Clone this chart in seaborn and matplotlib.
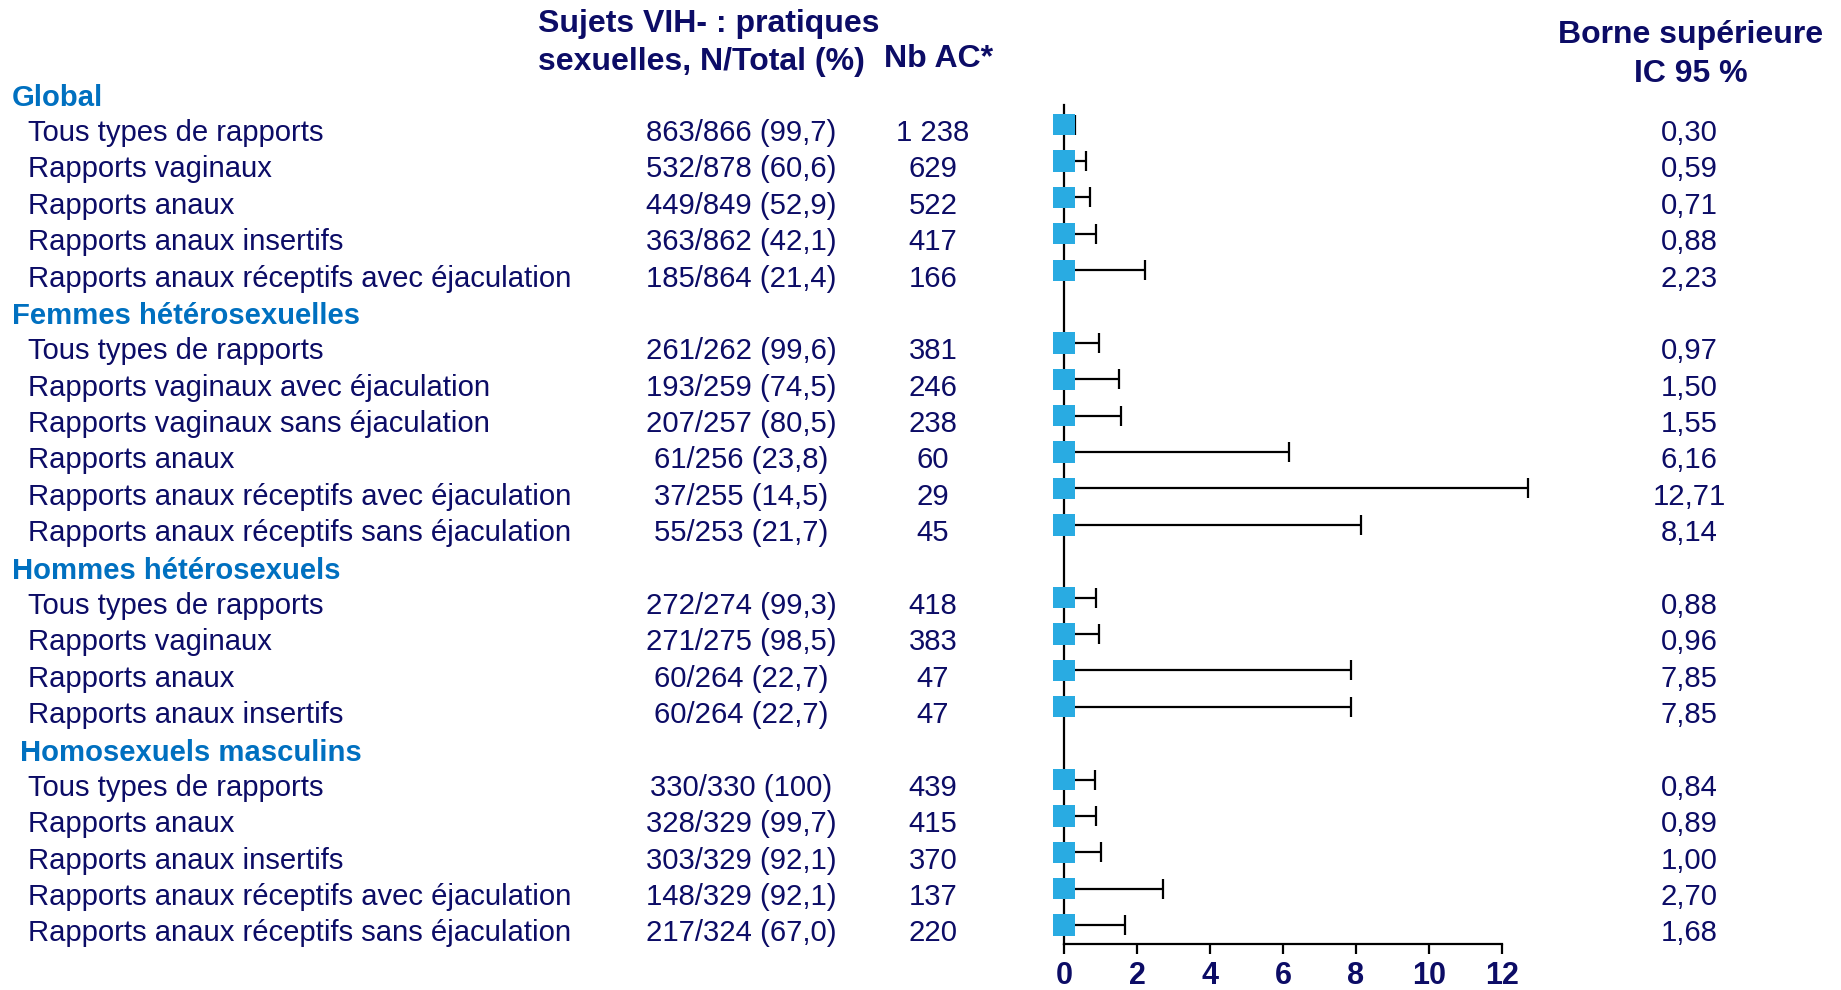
import numpy as np
import pandas as pd
import matplotlib
matplotlib.use("Agg")
import matplotlib.pyplot as plt
import matplotlib.transforms as mtransforms
import seaborn as sns

# Values
groups = ["Global", "Femmes hétérosexuelles", "Hommes hétérosexuels", "Homosexuels masculins"]
group_sizes = [5, 6, 4, 5]

labels = [
    "Tous types de rapports", "Rapports vaginaux", "Rapports anaux", "Rapports anaux insertifs",
    "Rapports anaux réceptifs avec éjaculation",
    "Tous types de rapports", "Rapports vaginaux avec éjaculation", "Rapports vaginaux sans éjaculation",
    "Rapports anaux", "Rapports anaux réceptifs avec éjaculation", "Rapports anaux réceptifs sans éjaculation",
    "Tous types de rapports", "Rapports vaginaux", "Rapports anaux", "Rapports anaux insertifs",
    "Tous types de rapports", "Rapports anaux", "Rapports anaux insertifs",
    "Rapports anaux réceptifs avec éjaculation", "Rapports anaux réceptifs sans éjaculation",
]
n_pos = [863, 532, 449, 363, 185, 261, 193, 207, 61, 37, 55, 272, 271, 60, 60, 330, 328, 303, 148, 217]
n_tot = [866, 878, 849, 862, 864, 262, 259, 257, 256, 255, 253, 274, 275, 264, 264, 330, 329, 329, 329, 324]
pct = [99.7, 60.6, 52.9, 42.1, 21.4, 99.6, 74.5, 80.5, 23.8, 14.5, 21.7, 99.3, 98.5, 22.7, 22.7,
       100, 99.7, 92.1, 92.1, 67.0]
nb_ac = [1238, 629, 522, 417, 166, 381, 246, 238, 60, 29, 45, 418, 383, 47, 47, 439, 415, 370, 137, 220]
upper = [0.30, 0.59, 0.71, 0.88, 2.23, 0.97, 1.50, 1.55, 6.16, 12.71, 8.14, 0.88, 0.96, 7.85, 7.85,
         0.84, 0.89, 1.00, 2.70, 1.68]
x_ticks = [0, 2, 4, 6, 8, 10, 12]

NAVY = "#0c0c66"
BLUE = "#0070c0"
SQUARE = "#29abe2"
W, H = 1841, 990

# line index: each group header takes one line, then its rows
header_lines = []
row_lines = []
k = 0
for g, size in zip(groups, group_sizes):
    header_lines.append(k)
    k += 1
    for _ in range(size):
        row_lines.append(k)
        k += 1

df = pd.DataFrame({"label": labels, "line": row_lines, "upper": upper, "est": 0.0})


def fmt_pct(v):
    return "100" if v == 100 else f"{v:.1f}".replace(".", ",")


df["ntotal"] = [f"{a}/{b} ({fmt_pct(p)})" for a, b, p in zip(n_pos, n_tot, pct)]
df["nbac"] = [f"{v:,}".replace(",", " ") for v in nb_ac]
df["ub"] = [f"{v:.2f}".replace(".", ",") for v in upper]

sns.set_style("white")
plt.rcParams["font.family"] = ["Liberation Sans", "DejaVu Sans"]

fig = plt.figure(figsize=(W / 100, H / 100), dpi=100)
ax_left, ax_right, ax_top, ax_bot = 1000, 1560, 80, 944
ax = fig.add_axes([ax_left / W, 1 - ax_bot / H, (ax_right - ax_left) / W, (ax_bot - ax_top) / H])

px_per_unit = 36.5
x0_px = 1064
line0_px, line_step = 88.3, 36.38
ax.set_xlim(-(x0_px - ax_left) / px_per_unit, (ax_right - x0_px) / px_per_unit)
ax.set_ylim((ax_bot - line0_px) / line_step, (ax_top - line0_px) / line_step)

# whiskers from the point estimate (0) up to the upper bound
ax.hlines(df["line"], 0, df["upper"], color="black", lw=1.6, zorder=2)
ax.plot(df["upper"], df["line"], ls="none", marker="|", ms=14, mew=1.6, color="black", zorder=2)
sns.scatterplot(data=df, x="est", y="line", marker="s", s=235, color=SQUARE,
                edgecolor="none", ax=ax, zorder=3, legend=False)

ax.spines["top"].set_visible(False)
ax.spines["right"].set_visible(False)
ax.spines["left"].set_position(("data", 0))
ax.spines["left"].set_bounds((105 - line0_px) / line_step, (ax_bot - line0_px) / line_step)
ax.spines["bottom"].set_bounds(0, 12)
for s in ["left", "bottom"]:
    ax.spines[s].set_linewidth(1.6)
    ax.spines[s].set_color("black")
ax.set_yticks([])
ax.set_xticks(x_ticks, [str(t) for t in x_ticks], fontweight="bold")
ax.tick_params(axis="x", direction="out", length=7, width=1.6, color="black",
               labelsize=22, labelcolor=NAVY, pad=5, bottom=True)
ax.set_xlabel("")
ax.set_ylabel("")

trans = mtransforms.blended_transform_factory(fig.transFigure, ax.transData)
row_fs = 21.05

for g, ln, xpx in zip(groups, header_lines, [12, 12, 12, 20]):
    ax.text(xpx / W, ln + 0.27, g, transform=trans, ha="left", va="center",
            fontsize=row_fs, fontweight="bold", color=BLUE)

for _, r in df.iterrows():
    y = r["line"] + 0.23
    ax.text(28 / W, y, r["label"], transform=trans, ha="left", va="center", fontsize=row_fs, color=NAVY)
    ax.text(741 / W, y, r["ntotal"], transform=trans, ha="center", va="center", fontsize=row_fs, color=NAVY)
    ax.text(933 / W, y, r["nbac"], transform=trans, ha="center", va="center", fontsize=row_fs, color=NAVY)
    ax.text(1689 / W, y, r["ub"], transform=trans, ha="center", va="center", fontsize=row_fs, color=NAVY)

# column headers
hdr = dict(fontsize=23, fontweight="bold", color=NAVY, va="center")
fig.text(538 / W, 1 - 24 / H, "Sujets VIH- : pratiques", ha="left", **hdr)
fig.text(538 / W, 1 - 62 / H, "sexuelles, N/Total (%)", ha="left", **hdr)
fig.text(939 / W, 1 - 59 / H, "Nb AC*", ha="center", **hdr)
fig.text(1691 / W, 1 - 35 / H, "Borne supérieure", ha="center", **hdr)
fig.text(1691 / W, 1 - 74 / H, "IC 95 %", ha="center", **hdr)

fig.savefig("out.png", dpi=100, facecolor="white")
